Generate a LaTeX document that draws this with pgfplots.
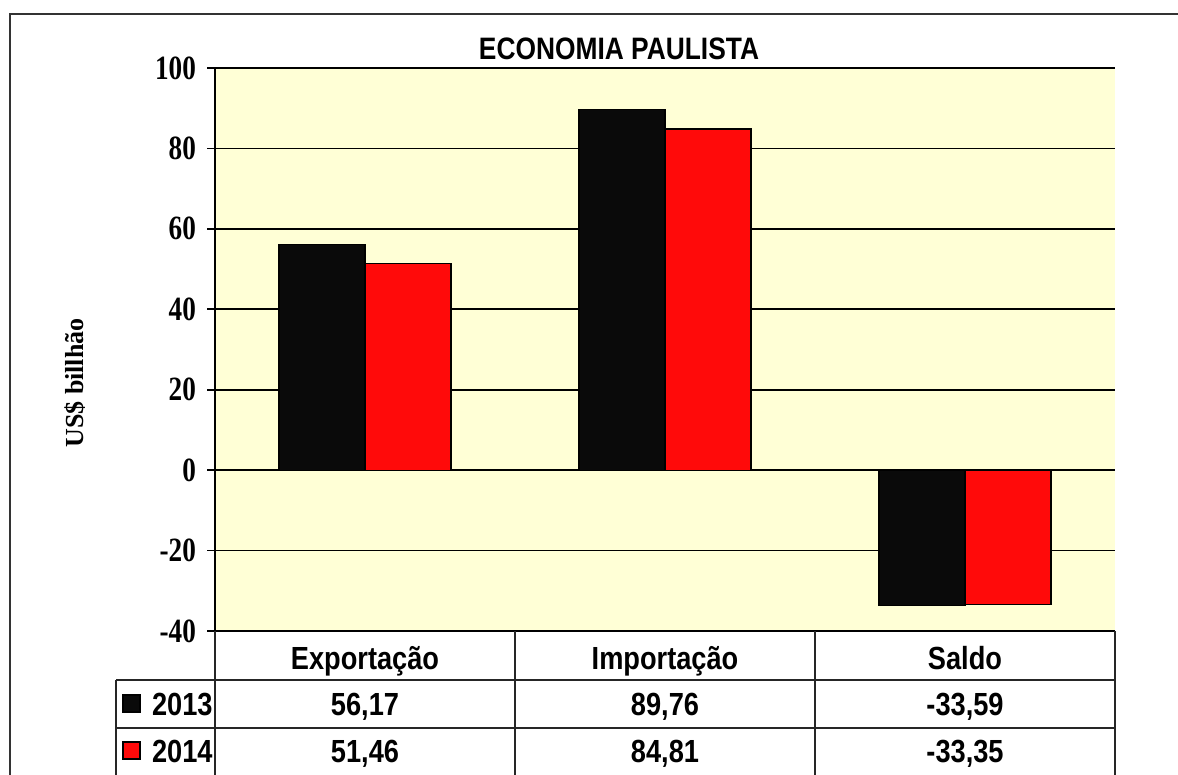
\documentclass[border=0pt]{standalone}
\usepackage{fontspec}
\setmainfont{Liberation Sans}
\newfontfamily\tabfont[FakeStretch=0.85]{Liberation Sans}
\newfontfamily\serifnum[FakeStretch=0.8]{Liberation Serif}
\newfontfamily\seriffont{Liberation Serif}
\usepackage{pgfplots}
\pgfplotsset{compat=1.18}
\definecolor{bg}{HTML}{FFFFD6}
\definecolor{barred}{HTML}{FF0A0A}
\definecolor{barblack}{HTML}{0A0A0A}

\begin{document}
\begin{tikzpicture}[x=0.5pt,y=-0.5pt]
\path[use as bounding box] (0,0) rectangle (1178,775);
\draw[line width=1pt,black!80] (10,775) -- (10,14) -- (1178,14);
\begin{axis}[
  at={(107.5pt,-315.5pt)}, anchor=south west,
  scale only axis, width=450pt, height=281.5pt,
  ybar, bar width=43pt,
  xmin=-0.5, xmax=2.5, ymin=-40, ymax=100,
  xtick=\empty,
  ytick={-40,-20,0,20,40,60,80,100},
  yticklabels={-40,-20,0,20,40,60,80,100},
  axis lines*=left,
  axis line style={-, line width=1pt, black},
  ymajorgrids,
  major grid style={line width=0.8pt, black},
  tick align=outside,
  major tick length=4pt,
  tick style={black, line width=0.8pt},
  yticklabel style={font=\serifnum\bfseries\fontsize{17}{17}\selectfont, xshift=-2pt},
  axis background/.style={fill=bg},
  clip=false,
]
\addplot[fill=barblack, draw=black, line width=0.6pt, bar shift=-21.5pt] coordinates {(0,56.17) (1,89.76) (2,-33.59)};
\addplot[fill=barred, draw=black, line width=0.6pt, bar shift=21.5pt] coordinates {(0,51.46) (1,84.81) (2,-33.35)};
\end{axis}
% title and y label
\node[anchor=base, font=\tabfont\bfseries\fontsize{15.5}{15.5}\selectfont] at (619,60) {ECONOMIA PAULISTA};
\node[rotate=90, font=\seriffont\bfseries\fontsize{13}{13}\selectfont] at (75,383) {US\$ billhão};
% data table
\draw[line width=0.7pt, black!85]
  (215,631) -- (215,775)
  (515,631) -- (515,775)
  (815,631) -- (815,775)
  (1115,631) -- (1115,775)
  (116,680) -- (1115,680)
  (116,728) -- (1115,728)
  (116,680) -- (116,775);
\begin{scope}[every node/.style={anchor=base, font=\tabfont\bfseries\fontsize{16}{16}\selectfont}]
\node at (365,669) {Exportação};
\node at (665,669) {Importação};
\node at (965,669) {Saldo};
\node at (365,715) {56,17};
\node at (665,715) {89,76};
\node at (965,715) {-33,59};
\node at (365,762) {51,46};
\node at (665,762) {84,81};
\node at (965,762) {-33,35};
\node[anchor=base west] at (145,715) {2013};
\node[anchor=base west] at (145,762) {2014};
\end{scope}
\filldraw[fill=barblack, draw=black, line width=0.6pt] (123,695) rectangle (140,712);
\filldraw[fill=barred, draw=black, line width=0.6pt] (123,742) rectangle (140,759);
\end{tikzpicture}
\end{document}
